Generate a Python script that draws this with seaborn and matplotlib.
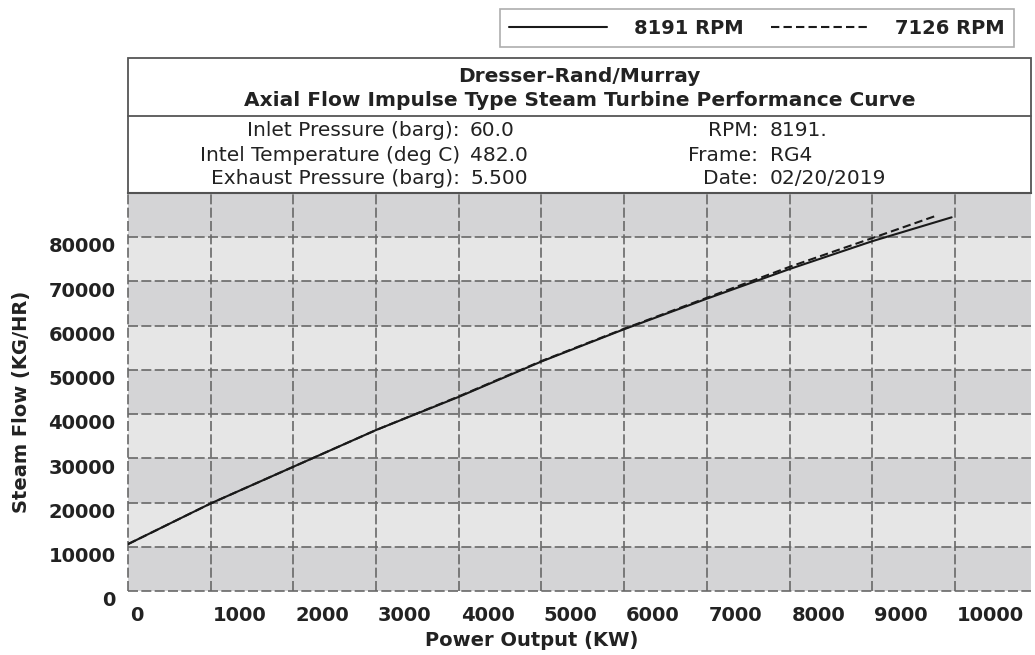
import matplotlib
matplotlib.use("Agg")
import matplotlib.pyplot as plt
import matplotlib.transforms as mtransforms
from matplotlib.patches import Rectangle
import seaborn as sns
import pandas as pd
import numpy as np

# ---- data ----
power_8191 = [0, 1000, 2000, 3000, 4000, 5000, 6000, 7000, 8000, 9000, 9960]
flow_8191 = [10600, 19800, 28100, 36400, 43900, 51900, 59200, 66100, 72800, 79100, 84500]
power_7126 = [0, 1000, 2000, 3000, 4000, 5000, 6000, 7000, 8000, 9000, 9780]
flow_7126 = [10600, 19800, 28100, 36400, 44000, 52000, 59300, 66300, 73300, 79800, 84900]
series_names = ["8191 RPM", "7126 RPM"]
x_ticks = [0, 1000, 2000, 3000, 4000, 5000, 6000, 7000, 8000, 9000, 10000]
y_ticks = [0, 10000, 20000, 30000, 40000, 50000, 60000, 70000, 80000]
title_lines = ["Dresser-Rand/Murray", "Axial Flow Impulse Type Steam Turbine Performance Curve"]
left_labels = ["Inlet Pressure (barg):", "Intel Temperature (deg C)", "Exhaust Pressure (barg):"]
left_values = ["60.0", "482.0", "5.500"]
right_labels = ["RPM:", "Frame:", "Date:"]
right_values = ["8191.", "RG4", "02/20/2019"]

df = pd.concat([
    pd.DataFrame({"power": power_8191, "flow": flow_8191, "rpm": series_names[0]}),
    pd.DataFrame({"power": power_7126, "flow": flow_7126, "rpm": series_names[1]}),
])

sns.set_theme(style="white")
plt.rcParams["font.family"] = ["DejaVu Sans"]

W, H = 1035, 655
fig = plt.figure(figsize=(W / 100, H / 100), dpi=100)

def fx(x):
    return x / W

def fy(y):
    return 1 - y / H

TXT = "#222222"
L, R, T, B = 128, 1031, 193, 591
ax = fig.add_axes([fx(L), fy(B), (R - L) / W, (B - T) / H])

XMAX, YMAX = 10920, 90000
ax.set_xlim(0, XMAX)
ax.set_ylim(0, YMAX)

# alternating bands
band_edges = y_ticks + [YMAX]
for i in range(len(band_edges) - 1):
    col = "#d4d4d6" if i % 2 == 0 else "#e6e6e6"
    ax.axhspan(band_edges[i], band_edges[i + 1], color=col, zorder=0, lw=0)

sns.lineplot(data=df, x="power", y="flow", hue="rpm", style="rpm",
             palette=["#1a1a1a", "#1a1a1a"],
             dashes={series_names[0]: "", series_names[1]: (4, 2)},
             linewidth=1.5, ax=ax, zorder=5, sort=False, estimator=None)

# grid
grid_kw = dict(color="#686868", lw=1.2, linestyle=(0, (6, 2)), zorder=2, clip_on=False)
for xv in x_ticks:
    ax.axvline(xv, **grid_kw)
for yv in y_ticks:
    ax.axhline(yv, **grid_kw)

for s in ["left", "bottom", "right"]:
    ax.spines[s].set_visible(False)
ax.spines["top"].set_color("#444444")
ax.spines["top"].set_linewidth(1.5)

TICK_FS = 14
ax.set_xticks(x_ticks)
ax.set_yticks(y_ticks)
ax.set_xticklabels([str(v) for v in x_ticks], fontsize=TICK_FS, fontweight="bold",
                   color=TXT, ha="left")
ax.set_yticklabels([str(v) for v in y_ticks], fontsize=TICK_FS, fontweight="bold",
                   color=TXT, va="center")
ax.tick_params(axis="both", length=0)
ax.tick_params(axis="x", pad=11)
ax.tick_params(axis="y", pad=9)
offx = mtransforms.ScaledTranslation(1.5 / 72, 0, fig.dpi_scale_trans)
for lab in ax.get_xticklabels():
    lab.set_transform(lab.get_transform() + offx)
offy = mtransforms.ScaledTranslation(0, -7 / 72, fig.dpi_scale_trans)
for lab in ax.get_yticklabels():
    lab.set_transform(lab.get_transform() + offy)

ax.set_xlabel("Power Output (KW)", fontsize=14, fontweight="bold", color=TXT)
ax.set_ylabel("Steam Flow (KG/HR)", fontsize=14, fontweight="bold", color=TXT)
ax.xaxis.set_label_coords((532 - L) / (R - L), (B - 631) / (B - T))
ax.yaxis.set_label_coords((31 - L) / (R - L), (B - 402) / (B - T))

# legend
handles, labels = ax.get_legend_handles_labels()
ax.get_legend().remove()
leg = fig.legend(handles, labels, loc="center", ncol=2,
                 bbox_to_anchor=(fx(757), fy(28)), frameon=True, fancybox=False,
                 handlelength=5.0, columnspacing=1.4, handletextpad=1.4,
                 borderpad=0.5, borderaxespad=0, prop={"weight": "bold", "size": 14})
leg.get_frame().set_edgecolor("#999999")
leg.get_frame().set_linewidth(1.2)
for t in leg.get_texts():
    t.set_color(TXT)

# header boxes
box_kw = dict(transform=fig.transFigure, fill=False, edgecolor="#555555", lw=1.3)
fig.patches.append(Rectangle((fx(L), fy(T)), (R - L) / W, (T - 58) / H, **box_kw))
fig.lines.append(plt.Line2D([fx(L), fx(R)], [fy(116), fy(116)], transform=fig.transFigure,
                            color="#555555", lw=1.3))

cx = (L + R) / 2
fig.text(fx(cx), fy(76), title_lines[0], ha="center", va="center", fontsize=14.5,
         fontweight="bold", color=TXT)
fig.text(fx(cx), fy(100), title_lines[1], ha="center", va="center", fontsize=14.5,
         fontweight="bold", color=TXT)

PFS = 14.5
rows_y = [131, 155, 178]
for yy, lab, val in zip(rows_y, left_labels, left_values):
    fig.text(fx(460), fy(yy), lab, ha="right", va="center", fontsize=PFS, color=TXT)
    fig.text(fx(470), fy(yy), val, ha="left", va="center", fontsize=PFS, color=TXT)
for yy, lab, val in zip(rows_y, right_labels, right_values):
    fig.text(fx(758), fy(yy), lab, ha="right", va="center", fontsize=PFS, color=TXT)
    fig.text(fx(770), fy(yy), val, ha="left", va="center", fontsize=PFS, color=TXT)

fig.savefig("out.png", dpi=100, facecolor="white")
